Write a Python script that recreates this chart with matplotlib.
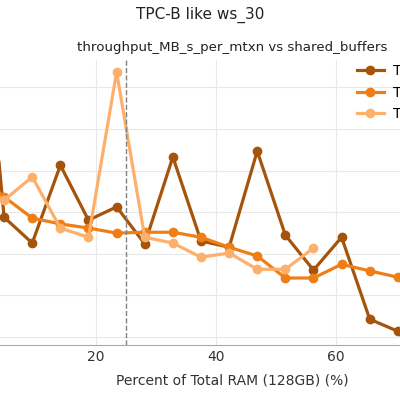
import numpy as np
import matplotlib
matplotlib.use("Agg")
import matplotlib.pyplot as plt

step = 100 * 6 / 128
x_dark = [step * k for k in range(16)]
y_dark = [10.14, 2.88, 2.26, 4.13, 2.81, 3.13, 2.24, 4.33, 2.31, 2.16, 4.47, 2.45, 1.61, 2.40, 0.43, 0.14]
x_mid = [step * k for k in range(16)]
y_mid = [4.01, 3.37, 2.86, 2.72, 2.62, 2.50, 2.52, 2.52, 2.40, 2.16, 1.95, 1.42, 1.42, 1.75, 1.59, 1.44]
x_light = [step * k for k in range(13)]
y_light = [3.77, 3.29, 3.85, 2.62, 2.40, 6.37, 2.40, 2.26, 1.92, 2.02, 1.63, 1.63, 2.14]
labels = ["TPC-B c=1", "TPC-B c=8", "TPC-B c=32"]
colors = ["#a6540b", "#f07e17", "#fdb06c"]
vline_x = 25

fig = plt.figure(figsize=(4, 4), dpi=100)
ax = fig.add_axes([0, 0.1375, 1, 0.7125])
for xs, ys, lab, c in zip([x_dark, x_mid, x_light], [y_dark, y_mid, y_light], labels, colors):
    ax.plot(xs, ys, color=c, lw=2.3, marker="o", ms=6, label=lab)
ax.axvline(vline_x, color="gray", ls="--", lw=1)
ax.set_xlim(4, 70.67)
ax.set_ylim(-0.19, 6.66)
ax.set_xticks([20, 40, 60])
ax.set_yticks(range(7))
ax.set_yticklabels([])
ax.tick_params(length=0, labelsize=10, colors="#333333")
ax.grid(color="#e8e8e8", lw=0.8)
for s in ["top", "right", "left"]:
    ax.spines[s].set_visible(False)
ax.spines["bottom"].set_color("#aaaaaa")
ax.set_xlabel("Percent of Total RAM (128GB) (%)", fontsize=10, color="#333333")
ax.xaxis.set_label_coords(0.58, -0.1)
ax.legend(loc="upper left", bbox_to_anchor=(0.86, 1.03), frameon=False, fontsize=10,
          handlelength=2.0, handletextpad=0.6, labelspacing=0.55)
fig.text(0.5, 0.962, "TPC-B like ws_30", ha="center", va="center", fontsize=11, color="#222222")
fig.text(0.58, 0.88, "throughput_MB_s_per_mtxn vs shared_buffers", ha="center", va="center", fontsize=9.6, color="#222222")
fig.savefig("out.png", dpi=100)
